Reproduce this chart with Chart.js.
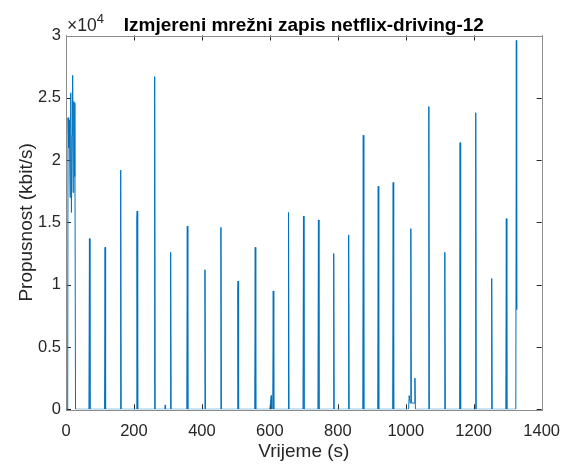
<!DOCTYPE html>
<html>
<head>
<meta charset="utf-8">
<script src="https://cdn.jsdelivr.net/npm/chart.js@4.4.1/dist/chart.umd.min.js"></script>
<style>
  html, body { margin: 0; padding: 0; background: #fff; }
  #wrap { width: 572px; height: 468px; position: relative; }
</style>
</head>
<body>
<div id="wrap"><canvas id="chart"></canvas></div>
<script>
var timeS = [
  0, 5, 6, 8, 10, 12, 14, 16, 18, 19.5, 21, 23, 25, 26, 28,
  67.5, 69, 70.5,
  113.5, 115, 116.5,
  159.5, 161, 162.5,
  207.5, 208.5, 209.5, 211,
  259.5, 261, 262.5,
  291, 292, 293,
  306.5, 308, 309.5,
  355.5, 357, 358.5,
  407.5, 409, 410.5,
  454.5, 456, 457.5,
  504.5, 505.5, 506.5, 508,
  555.5, 557, 558.5,
  600, 604, 605, 608.5, 610, 611.5,
  653.5, 655, 656.5,
  697.5, 699, 700.5,
  741.5, 743, 744.5,
  786.5, 788, 789.5,
  830.5, 832, 833.5,
  873.5, 875, 876.5,
  917.5, 919, 920.5,
  961.5, 963, 964.5,
  1008.5, 1010, 1013.5, 1015, 1016.5, 1025.5, 1027, 1028.5,
  1066.5, 1068, 1069.5,
  1113.5, 1115, 1116.5,
  1158.5, 1160, 1161.5,
  1204.5, 1206, 1207.5,
  1251.5, 1253, 1254.5,
  1294.5, 1296, 1297.5,
  1324, 1325.5, 1326.5
];
var rateKbps = [
  0, 0, 23400, 21000, 23200, 17000, 25400, 15800, 22000, 26800, 17400, 24700, 18700, 24600, 0,
  0, 13700, 0,
  0, 13000, 0,
  0, 19200, 0,
  0, 15300, 15900, 0,
  0, 26700, 0,
  0, 350, 0,
  0, 12600, 0,
  0, 14700, 0,
  0, 11200, 0,
  0, 14600, 0,
  0, 9500, 10300, 0,
  0, 13000, 0,
  0, 1100, 0, 0, 9500, 0,
  0, 15800, 0,
  0, 15500, 0,
  0, 15200, 0,
  0, 12500, 0,
  0, 14000, 0,
  0, 22000, 0,
  0, 17900, 0,
  0, 18200, 0,
  0, 1100, 500, 14500, 500, 500, 2500, 0,
  0, 24300, 0,
  0, 12600, 0,
  0, 21400, 0,
  0, 23800, 0,
  0, 10500, 0,
  0, 15300, 0,
  0, 29600, 8000
];
var xTicks = [0, 200, 400, 600, 800, 1000, 1200, 1400];
var yTicks = [0, 5000, 10000, 15000, 20000, 25000, 30000];

var FONT = "'Liberation Sans', Arial, Helvetica, sans-serif";
var TXT = '#262626';

var points = timeS.map(function (t, i) { return { x: t, y: rateKbps[i] }; });

// box + inward ticks go under the trace, title and x10^4 on top (MATLAB look)
var matlabAxes = {
  id: 'matlabAxes',
  beforeDatasetsDraw: function (chart) {
    var ctx = chart.ctx;
    var a = chart.chartArea;
    var sx = chart.scales.x, sy = chart.scales.y;
    ctx.save();
    ctx.strokeStyle = '#262626';
    ctx.lineWidth = 1;
    ctx.beginPath();
    xTicks.forEach(function (v) {
      var px = Math.round(sx.getPixelForValue(v)) + 0.5;
      ctx.moveTo(px, a.bottom); ctx.lineTo(px, a.bottom - 5);
      ctx.moveTo(px, a.top); ctx.lineTo(px, a.top + 5);
    });
    yTicks.forEach(function (v) {
      var py = Math.round(sy.getPixelForValue(v)) + 0.5;
      ctx.moveTo(a.left, py); ctx.lineTo(a.left + 5, py);
      ctx.moveTo(a.right, py); ctx.lineTo(a.right - 5, py);
    });
    ctx.stroke();
    ctx.strokeStyle = '#8c8c8c';
    ctx.strokeRect(Math.round(a.left) + 0.5, Math.round(a.top) + 0.5,
      Math.round(a.right - a.left), Math.round(a.bottom - a.top));
    ctx.restore();
  },
  afterDraw: function (chart) {
    var ctx = chart.ctx;
    var a = chart.chartArea;
    ctx.save();
    ctx.fillStyle = '#000';
    ctx.font = 'bold 19px ' + FONT;
    ctx.textAlign = 'center';
    ctx.textBaseline = 'alphabetic';
    ctx.fillText('Izmjereni mrežni zapis netflix-driving-12', (a.left + a.right) / 2, 31);

    ctx.fillStyle = TXT;
    ctx.textAlign = 'left';
    ctx.font = '17.5px ' + FONT;
    ctx.fillText('\u00d710', a.left + 1, 31);
    var w = ctx.measureText('\u00d710').width;
    ctx.font = '13px ' + FONT;
    ctx.fillText('4', a.left + 1 + w, 23);
    ctx.restore();
  }
};

new Chart(document.getElementById('chart'), {
  type: 'line',
  data: {
    datasets: [{
      data: points,
      borderColor: '#0072BD',
      borderWidth: 1,
      pointRadius: 0,
      tension: 0,
      fill: false
    }]
  },
  options: {
    responsive: true,
    maintainAspectRatio: false,
    animation: false,
    devicePixelRatio: 1,
    layout: { padding: { top: 35.5, right: 25, left: 0, bottom: 0 } },
    plugins: { legend: { display: false }, tooltip: { enabled: false } },
    scales: {
      x: {
        type: 'linear',
        min: 0,
        max: 1400,
        afterBuildTicks: function (s) { s.ticks = xTicks.map(function (v) { return { value: v }; }); },
        afterFit: function (s) { s.height = 58.7; },
        grid: { display: false, drawTicks: false },
        border: { display: false },
        ticks: {
          color: TXT, font: { family: FONT, size: 16.5 }, padding: 12, maxRotation: 0, autoSkip: false,
          callback: function (v) { return String(v); }
        },
        title: { display: true, text: 'Vrijeme (s)', color: TXT, font: { family: FONT, size: 19 }, padding: { top: 0, bottom: 5 } }
      },
      y: {
        min: 0,
        max: 30000,
        afterBuildTicks: function (s) { s.ticks = yTicks.map(function (v) { return { value: v }; }); },
        afterFit: function (s) { s.width = 66; },
        grid: { display: false, drawTicks: false },
        border: { display: false },
        ticks: {
          color: TXT, font: { family: FONT, size: 16.5 }, padding: 5, autoSkip: false,
          callback: function (v) { return String(v / 10000); }
        },
        title: { display: true, text: 'Propusnost (kbit/s)', color: TXT, font: { family: FONT, size: 19 }, padding: { top: 15, bottom: 0 } }
      }
    }
  },
  plugins: [matlabAxes]
});
</script>
</body>
</html>
